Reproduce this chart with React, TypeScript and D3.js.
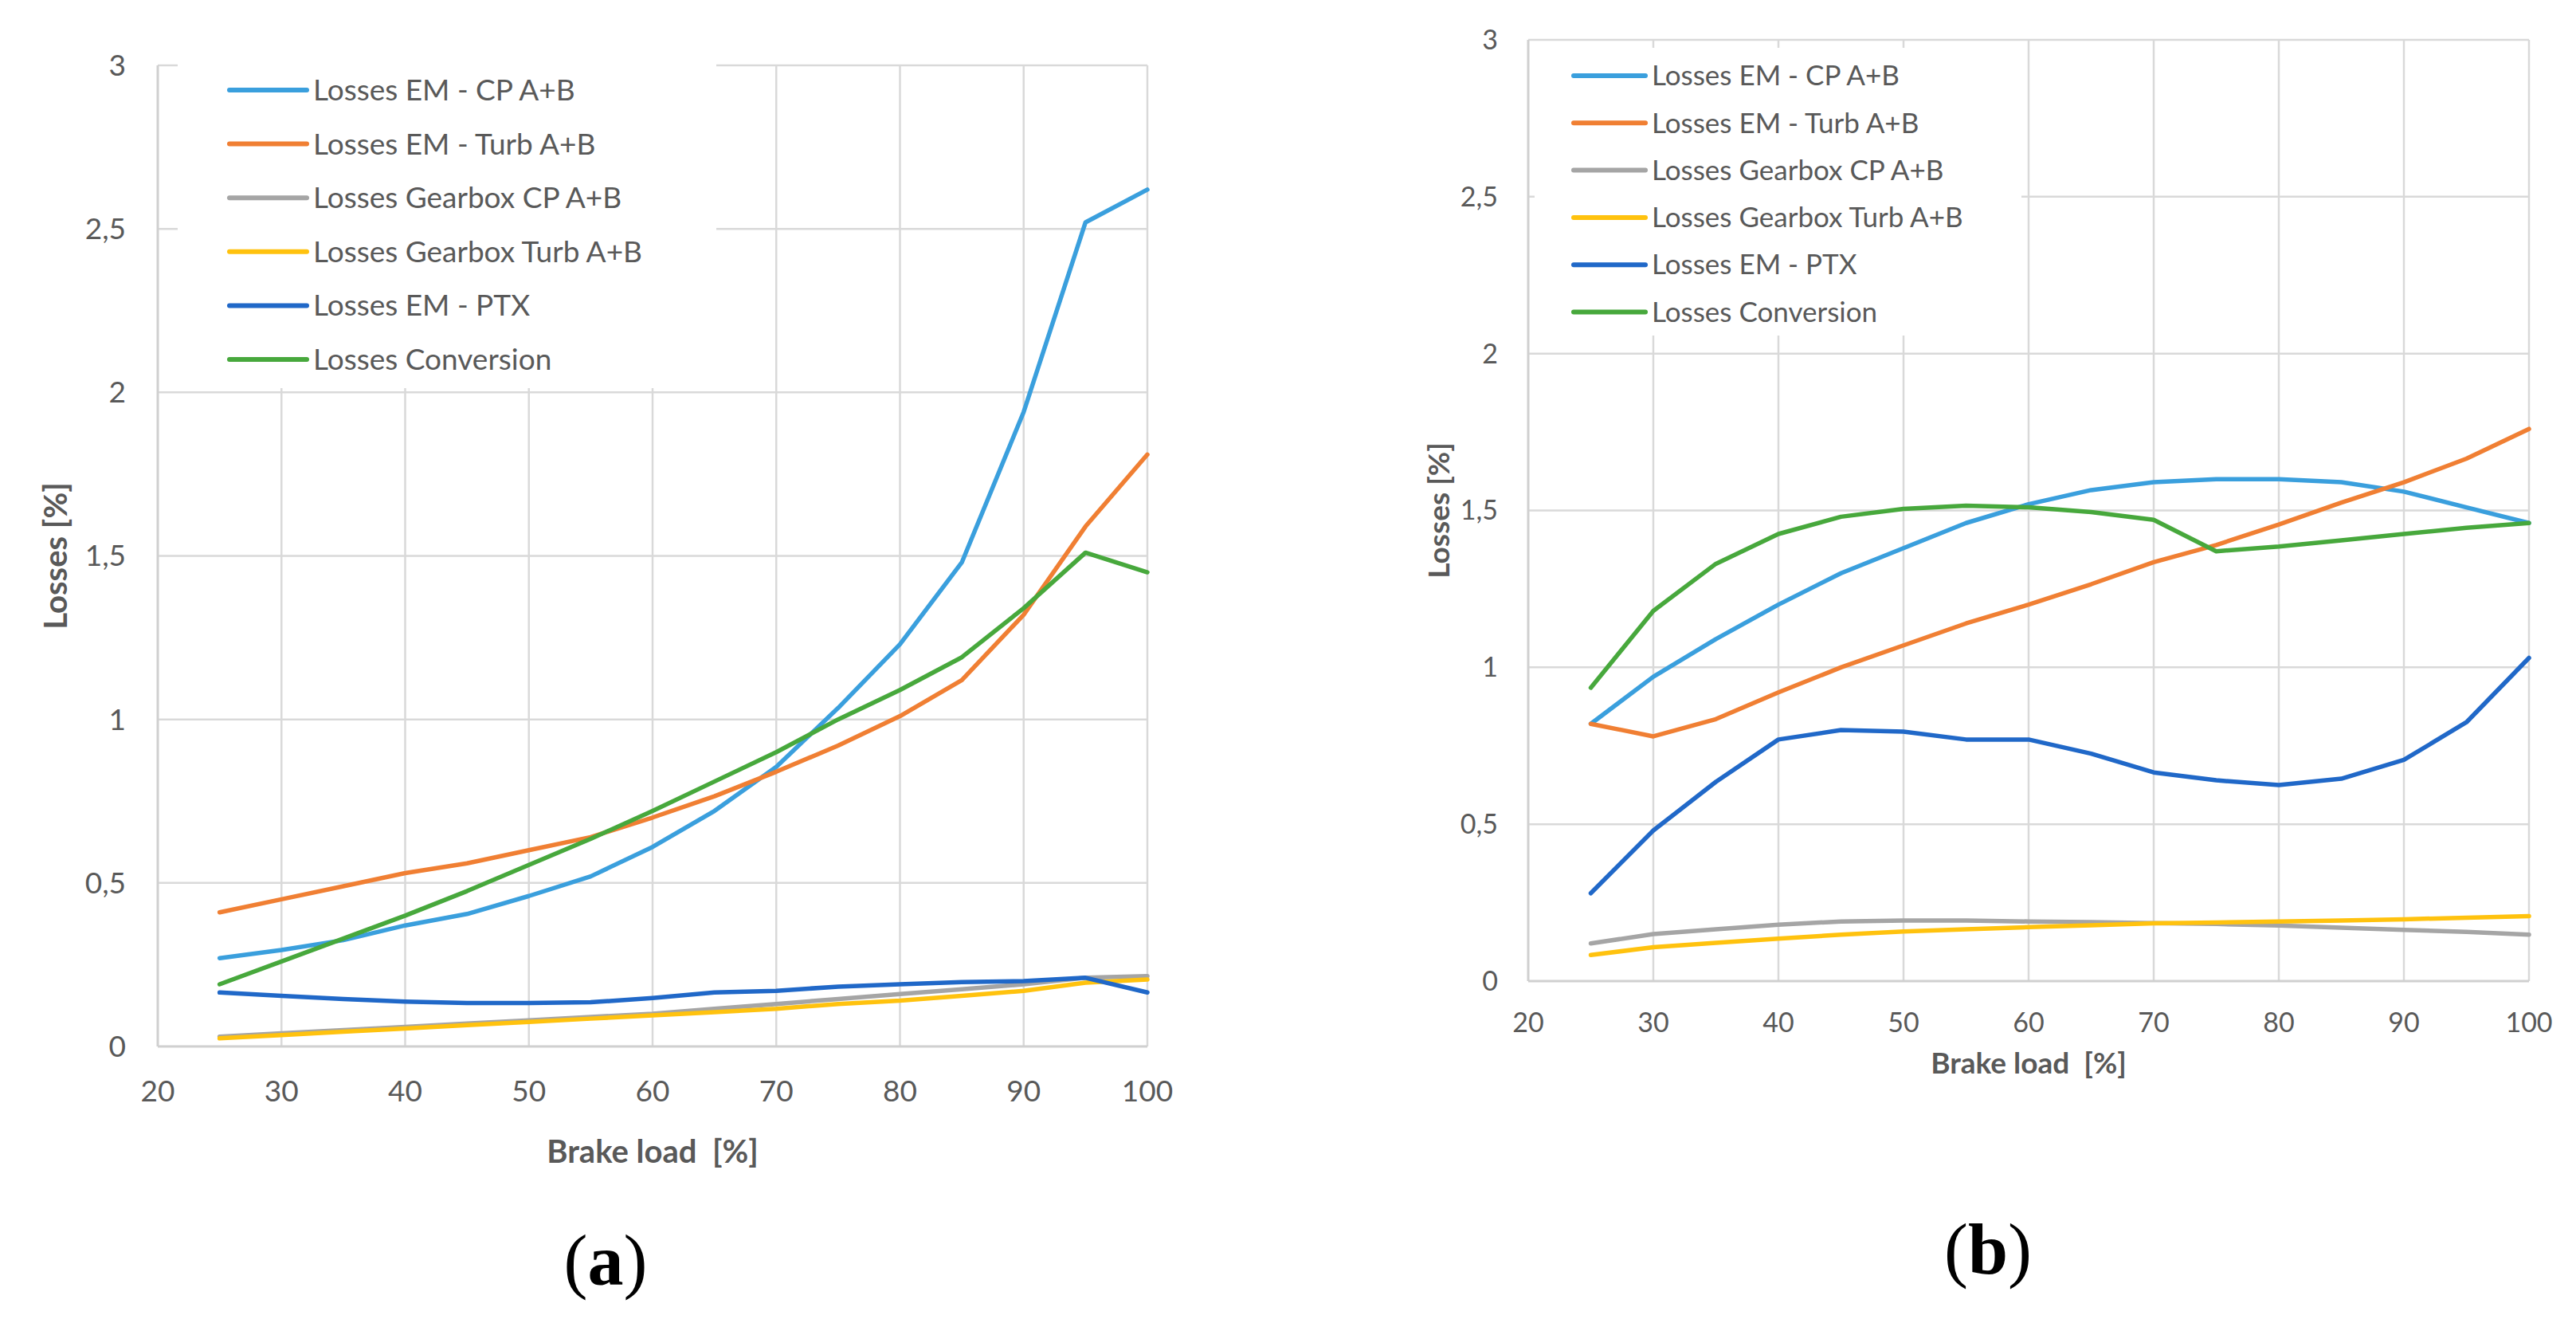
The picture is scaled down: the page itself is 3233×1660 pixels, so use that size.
import * as d3 from "d3"

// ── Data ───────────────────────────────────────────────────────────────
const LOADS = [25, 30, 35, 40, 45, 50, 55, 60, 65, 70, 75, 80, 85, 90, 95, 100]

const SERIES_NAMES = [
  "Losses EM - CP A+B",
  "Losses EM - Turb A+B",
  "Losses Gearbox CP A+B",
  "Losses Gearbox Turb A+B",
  "Losses EM - PTX",
  "Losses Conversion",
]

const SERIES_COLORS = ["#3a9fdd", "#f07f33", "#a5a5a5", "#ffc20e", "#2068c8", "#47a83c"]

// panel (a)
const A_EM_CP = [0.27, 0.295, 0.325, 0.37, 0.405, 0.46, 0.52, 0.61, 0.72, 0.855, 1.035, 1.23, 1.48, 1.94, 2.52, 2.62]
const A_EM_TURB = [0.41, 0.45, 0.49, 0.53, 0.56, 0.6, 0.64, 0.7, 0.765, 0.84, 0.92, 1.01, 1.12, 1.32, 1.59, 1.81]
const A_GB_CP = [0.03, 0.04, 0.05, 0.06, 0.07, 0.08, 0.09, 0.1, 0.115, 0.13, 0.145, 0.16, 0.175, 0.19, 0.21, 0.215]
const A_GB_TURB = [0.025, 0.035, 0.045, 0.055, 0.065, 0.075, 0.085, 0.095, 0.105, 0.115, 0.13, 0.14, 0.155, 0.17, 0.195, 0.205]
const A_EM_PTX = [0.165, 0.155, 0.145, 0.137, 0.133, 0.133, 0.135, 0.148, 0.165, 0.17, 0.183, 0.19, 0.197, 0.2, 0.21, 0.165]
const A_CONV = [0.19, 0.26, 0.33, 0.4, 0.475, 0.555, 0.635, 0.72, 0.81, 0.9, 1.0, 1.09, 1.19, 1.34, 1.51, 1.45]

// panel (b)
const B_EM_CP = [0.82, 0.97, 1.09, 1.2, 1.3, 1.38, 1.46, 1.52, 1.565, 1.59, 1.6, 1.6, 1.59, 1.56, 1.51, 1.46]
const B_EM_TURB = [0.82, 0.78, 0.835, 0.92, 1.0, 1.07, 1.14, 1.2, 1.265, 1.335, 1.39, 1.455, 1.525, 1.59, 1.665, 1.76]
const B_GB_CP = [0.12, 0.15, 0.165, 0.18, 0.19, 0.193, 0.193, 0.19, 0.188, 0.185, 0.182, 0.177, 0.17, 0.163, 0.157, 0.148]
const B_GB_TURB = [0.083, 0.108, 0.122, 0.135, 0.148, 0.158, 0.165, 0.172, 0.178, 0.184, 0.187, 0.19, 0.193, 0.197, 0.202, 0.207]
const B_EM_PTX = [0.28, 0.48, 0.635, 0.77, 0.8, 0.795, 0.77, 0.77, 0.725, 0.665, 0.64, 0.625, 0.645, 0.705, 0.825, 1.03]
const B_CONV = [0.935, 1.18, 1.33, 1.425, 1.48, 1.505, 1.515, 1.51, 1.495, 1.47, 1.37, 1.385, 1.405, 1.425, 1.445, 1.46]

const X_TICKS = [20, 30, 40, 50, 60, 70, 80, 90, 100]
const Y_TICKS = [0, 0.5, 1, 1.5, 2, 2.5, 3]

const X_TITLE = "Brake load  [%]"
const Y_TITLE = "Losses [%]"

// ── Layout ─────────────────────────────────────────────────────────────
const W = 3233
const H = 1660
const FONT = "Lato, 'Open Sans', sans-serif"
const TEXT = "#595959"
const GRID = "#d9d9d9"

interface PanelLayout {
  left: number
  right: number
  top: number
  bottom: number
  tickFont: number
  legendFont: number
  titleFont: number
  yTitleX: number
  xTitleY: number
  xTickY: number
  yTickGap: number
  legend: { x0: number; x1: number; y0: number; y1: number; lineX0: number; lineX1: number; row0: number; rowStep: number }
  caption: { x: number; y: number; text: string }
}

const LAYOUT_A: PanelLayout = {
  left: 198, right: 1440, top: 82, bottom: 1313,
  tickFont: 37, legendFont: 37, titleFont: 40,
  yTitleX: 70, xTitleY: 1445, xTickY: 1369, yTickGap: 40,
  legend: { x0: 223, x1: 899, y0: 76, y1: 487, lineX0: 288, lineX1: 385, row0: 113, rowStep: 67.6 },
  caption: { x: 760, y: 1612, text: "a" },
}

const LAYOUT_B: PanelLayout = {
  left: 1918, right: 3174, top: 50, bottom: 1231,
  tickFont: 34, legendFont: 35, titleFont: 37,
  yTitleX: 1806, xTitleY: 1334, xTickY: 1283, yTickGap: 38,
  legend: { x0: 1926, x1: 2537, y0: 60, y1: 421, lineX0: 1975, lineX1: 2065, row0: 95, rowStep: 59.3 },
  caption: { x: 2495, y: 1598, text: "b" },
}

const fmt = (v: number) => String(v).replace(".", ",")

function Panel({ layout, series }: { layout: PanelLayout; series: number[][] }) {
  const x = d3.scaleLinear().domain([20, 100]).range([layout.left, layout.right])
  const y = d3.scaleLinear().domain([0, 3]).range([layout.bottom, layout.top])
  const lg = layout.legend
  const cy = (layout.top + layout.bottom) / 2
  const cx = (layout.left + layout.right) / 2

  return (
    <g>
      {/* gridlines */}
      {Y_TICKS.filter((t) => t > 0).map((t) => (
        <line key={"gy" + t} x1={layout.left} x2={layout.right} y1={y(t)} y2={y(t)} stroke={GRID} strokeWidth={2.5} />
      ))}
      {X_TICKS.filter((t) => t > 20).map((t) => (
        <line key={"gx" + t} x1={x(t)} x2={x(t)} y1={layout.top} y2={layout.bottom} stroke={GRID} strokeWidth={2.5} />
      ))}
      {/* axes */}
      <line x1={layout.left} x2={layout.left} y1={layout.top} y2={layout.bottom} stroke="#d0d0d0" strokeWidth={3} />
      <line x1={layout.left} x2={layout.right} y1={layout.bottom} y2={layout.bottom} stroke="#d0d0d0" strokeWidth={3} />

      {/* tick labels */}
      {Y_TICKS.map((t) => (
        <text key={"ty" + t} x={layout.left - layout.yTickGap} y={y(t)} dy="0.35em" textAnchor="end"
          fontSize={layout.tickFont} fontFamily={FONT} fill={TEXT}>{fmt(t)}</text>
      ))}
      {X_TICKS.map((t) => (
        <text key={"tx" + t} x={x(t)} y={layout.xTickY} dy="0.35em" textAnchor="middle"
          fontSize={layout.tickFont} fontFamily={FONT} fill={TEXT}>{t}</text>
      ))}

      {/* axis titles */}
      <text x={cx} y={layout.xTitleY} dy="0.35em" textAnchor="middle" fontSize={layout.titleFont}
        fontWeight={700} fontFamily={FONT} fill={TEXT} style={{ whiteSpace: "pre" }}>{X_TITLE}</text>
      <text transform={`translate(${layout.yTitleX},${cy}) rotate(-90)`} dy="0.35em" textAnchor="middle"
        fontSize={layout.titleFont} fontWeight={700} fontFamily={FONT} fill={TEXT}>{Y_TITLE}</text>

      {/* legend background */}
      <rect x={lg.x0} y={lg.y0} width={lg.x1 - lg.x0} height={lg.y1 - lg.y0} fill="#ffffff" />

      {/* series */}
      {series.map((vals, i) => {
        const path = d3.line<number>()
          .x((_, k) => x(LOADS[k]))
          .y((v) => y(v))(vals)
        return (
          <path key={"s" + i} d={path ?? ""} fill="none" stroke={SERIES_COLORS[i]} strokeWidth={5.5}
            strokeLinejoin="round" strokeLinecap="round" />
        )
      })}

      {/* legend entries */}
      {SERIES_NAMES.map((name, i) => {
        const ry = lg.row0 + i * lg.rowStep
        return (
          <g key={"l" + i}>
            <line x1={lg.lineX0} x2={lg.lineX1} y1={ry} y2={ry} stroke={SERIES_COLORS[i]} strokeWidth={6} strokeLinecap="round" />
            <text x={lg.lineX1 + 8} y={ry} dy="0.35em" fontSize={layout.legendFont} fontFamily={FONT} fill={TEXT}>{name}</text>
          </g>
        )
      })}

      {/* caption */}
      <text x={layout.caption.x} y={layout.caption.y} textAnchor="middle" fontSize={90}
        fontFamily="'Liberation Serif', 'Times New Roman', serif" fill="#000">
        (<tspan fontWeight={700}>{layout.caption.text}</tspan>)
      </text>
    </g>
  )
}

export default function App() {
  return (
    <svg width={W} height={H} viewBox={`0 0 ${W} ${H}`}
      style={{ position: "absolute", left: 0, top: 0, background: "#fff", display: "block" }}>
      <rect width={W} height={H} fill="#fff" />
      <Panel layout={LAYOUT_A} series={[A_EM_CP, A_EM_TURB, A_GB_CP, A_GB_TURB, A_EM_PTX, A_CONV]} />
      <Panel layout={LAYOUT_B} series={[B_EM_CP, B_EM_TURB, B_GB_CP, B_GB_TURB, B_EM_PTX, B_CONV]} />
    </svg>
  )
}
